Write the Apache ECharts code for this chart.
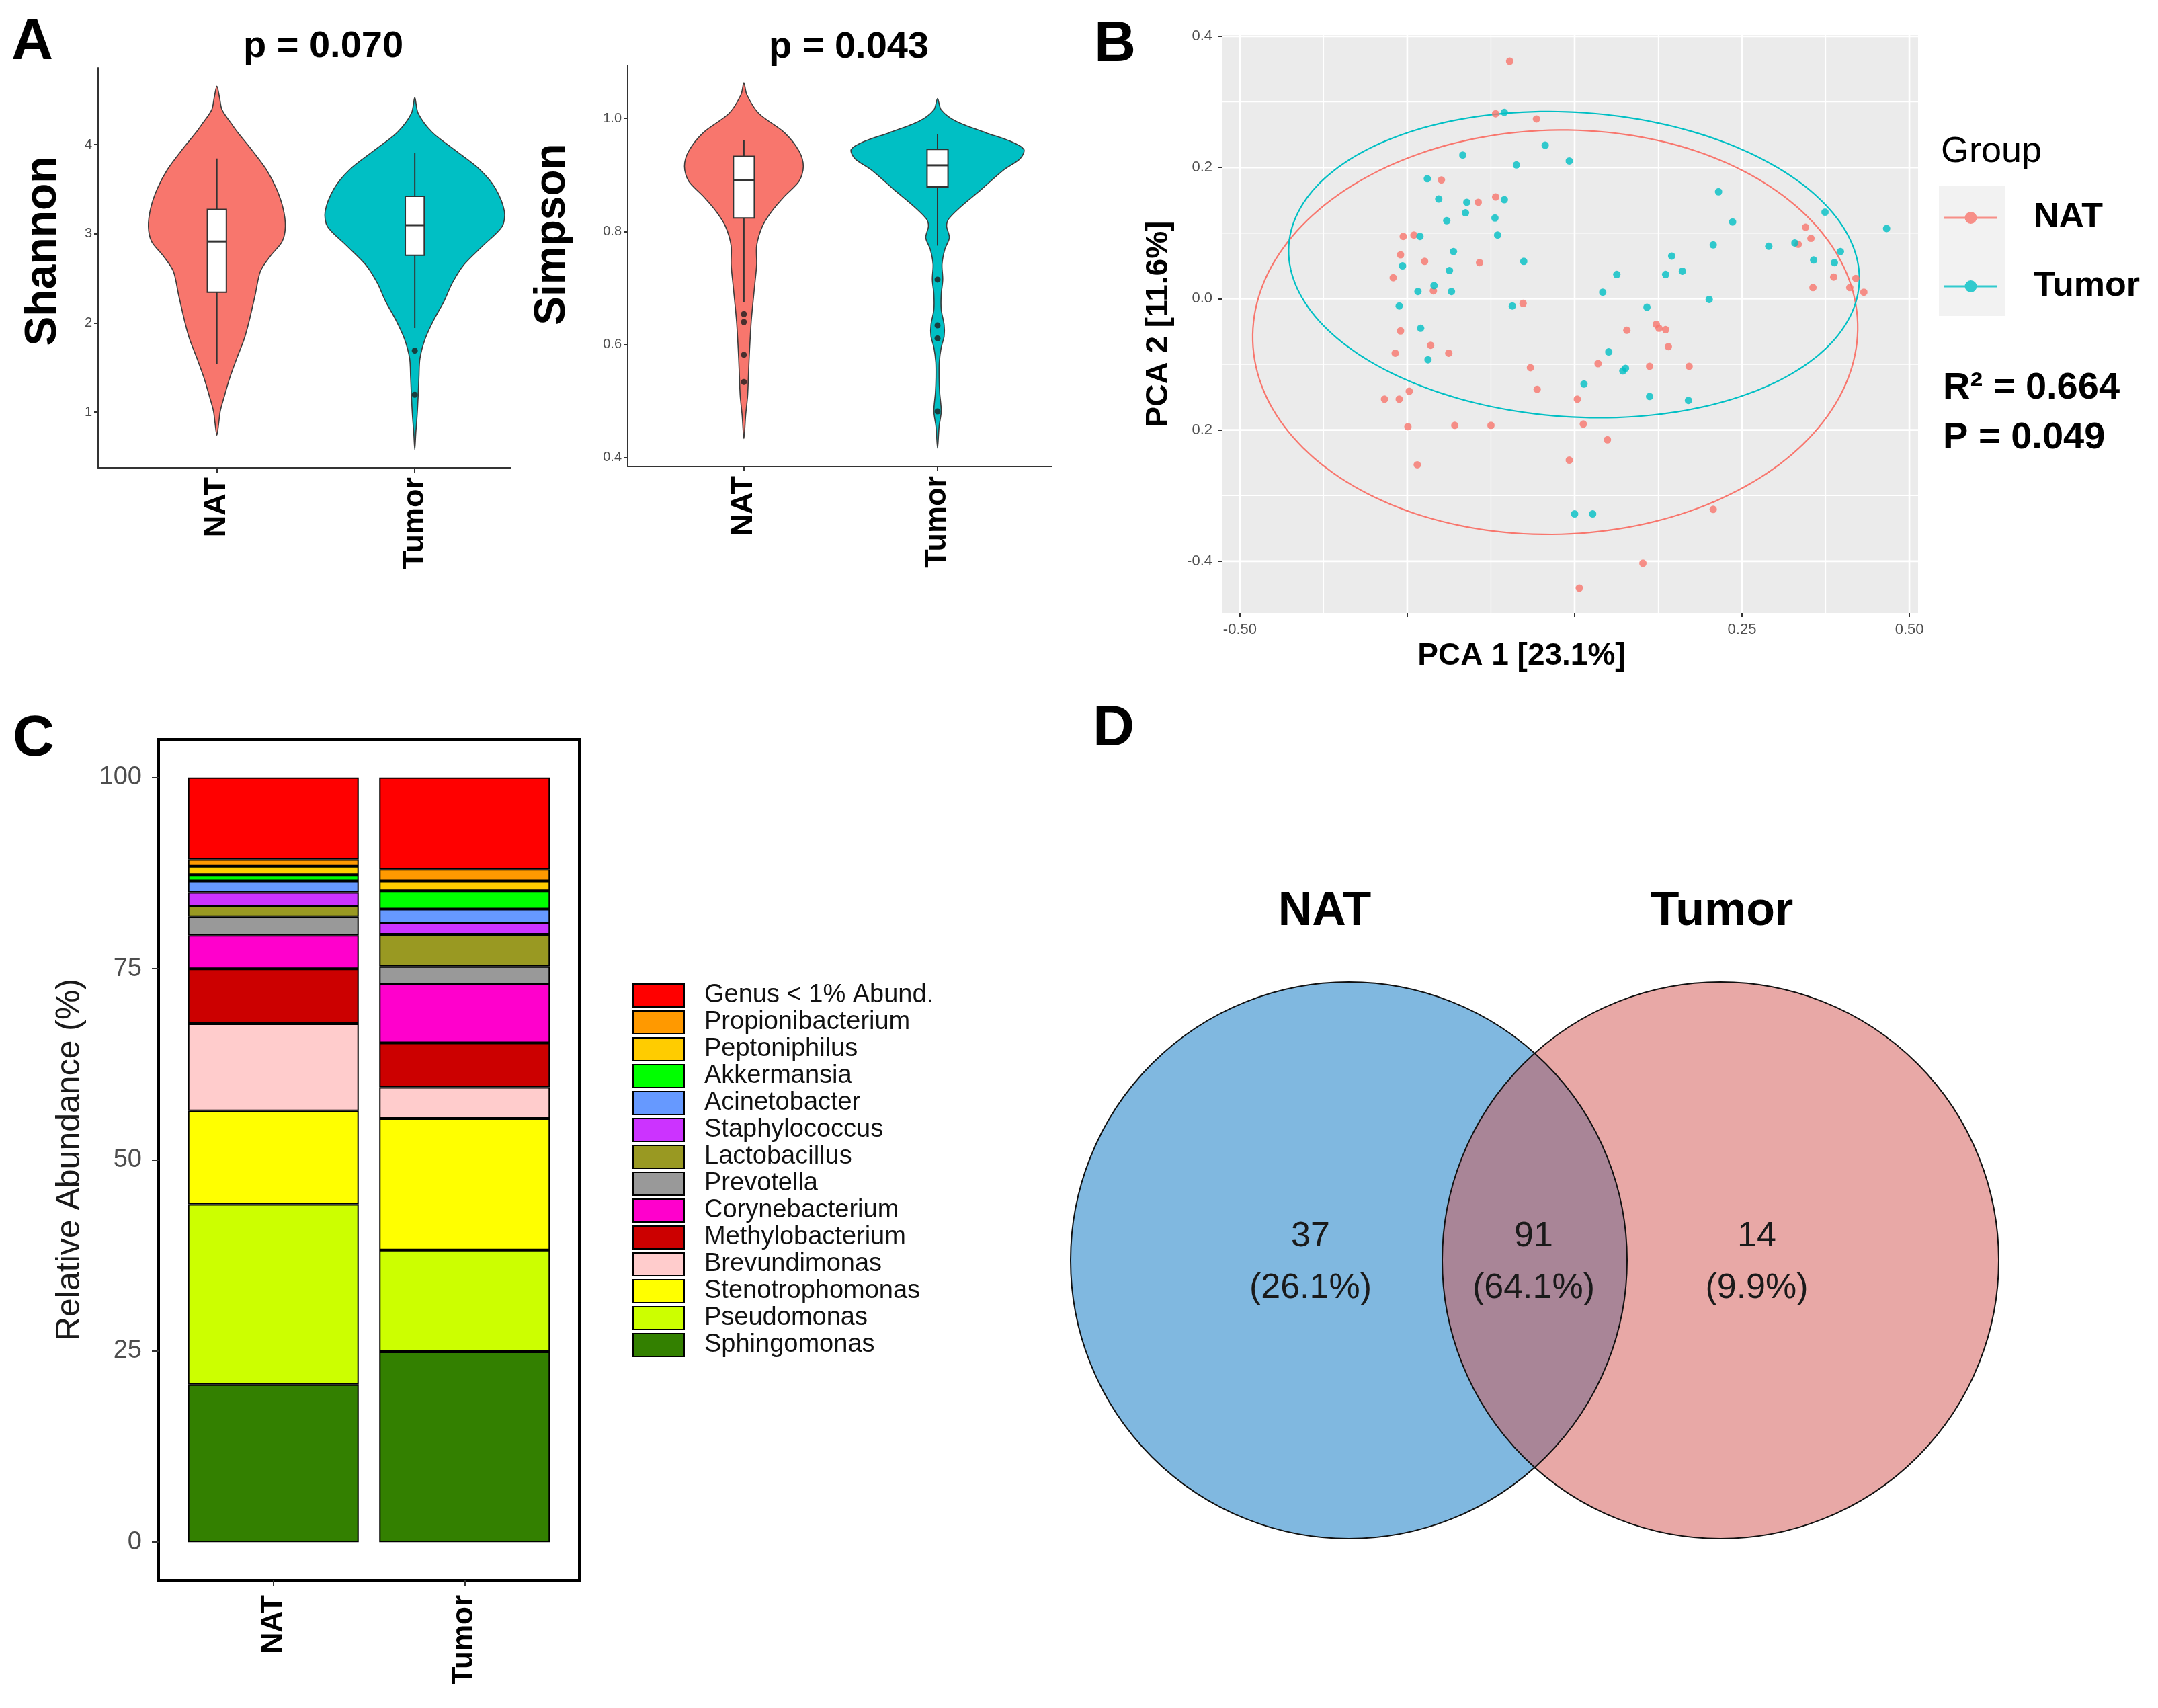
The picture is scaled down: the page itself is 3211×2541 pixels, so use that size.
<!DOCTYPE html>
<html>
<head>
<meta charset="utf-8">
<title>Microbiome NAT vs Tumor</title>
<script src="https://cdn.jsdelivr.net/npm/echarts@6.0.0/dist/echarts.min.js"></script>
<style>
html,body{margin:0;padding:0;background:#ffffff;}
#chart{width:3211px;height:2541px;}
</style>
</head>
<body>
<div id="chart"></div>
<script>
// ================= DATA =================
const groups = ['NAT', 'Tumor'];
const groupPos = [1, 2];
const groupColors = ['#F8766D', '#00BFC4'];

// Panel A — violin outlines: [value, half-width in category units]
const shannonViolinNAT = [[4.655,0],[4.52,0.014],[4.39,0.026],[4.22,0.078],[4.14,0.104],[3.93,0.18],[3.72,0.25],[3.51,0.30],[3.29,0.334],[3.08,0.346],[2.91,0.329],[2.75,0.27],[2.58,0.22],[2.32,0.194],[2.03,0.164],[1.82,0.138],[1.60,0.10],[1.39,0.066],[1.18,0.038],[1.01,0.017],[0.89,0.01],[0.74,0]];
const shannonViolinTumor = [[4.528,0],[4.35,0.017],[4.14,0.087],[3.93,0.208],[3.72,0.329],[3.51,0.407],[3.25,0.453],[3.08,0.441],[2.87,0.346],[2.66,0.251],[2.45,0.19],[2.24,0.147],[2.03,0.095],[1.82,0.052],[1.60,0.026],[1.39,0.021],[1.18,0.017],[0.97,0.012],[0.76,0.005],[0.58,0]];
const simpsonViolinNAT = [[1.063,0],[1.042,0.015],[1.009,0.076],[0.975,0.209],[0.942,0.285],[0.915,0.307],[0.889,0.285],[0.862,0.209],[0.835,0.142],[0.809,0.095],[0.775,0.066],[0.742,0.066],[0.709,0.057],[0.675,0.047],[0.642,0.038],[0.609,0.032],[0.575,0.027],[0.542,0.023],[0.509,0.019],[0.475,0.009],[0.434,0]];
const simpsonViolinTumor = [[1.035,0],[1.015,0.019],[0.995,0.095],[0.975,0.247],[0.959,0.38],[0.945,0.446],[0.929,0.427],[0.909,0.342],[0.875,0.228],[0.842,0.114],[0.822,0.057],[0.809,0.047],[0.789,0.061],[0.769,0.038],[0.742,0.023],[0.715,0.027],[0.689,0.019],[0.662,0.019],[0.635,0.034],[0.615,0.034],[0.595,0.019],[0.569,0.009],[0.542,0.008],[0.515,0.011],[0.482,0.019],[0.455,0.008],[0.417,0]];
// box stats: [lower whisker, Q1, median, Q3, upper whisker]
const shannonBoxStats = [[1.541, 2.344, 2.914, 3.273, 3.844], [1.943, 2.758, 3.096, 3.42, 3.907]];
const simpsonBoxStats = [[0.675, 0.824, 0.891, 0.933, 0.961], [0.775, 0.879, 0.917, 0.945, 0.972]];
const shannonOutliers = [[], [1.689, 1.195]];
const simpsonOutliers = [[0.654, 0.640, 0.582, 0.534], [0.715, 0.634, 0.611, 0.482]];
const shannonTicks = [1, 2, 3, 4];
const simpsonTicks = [0.4, 0.6, 0.8, 1.0];
const pValueShannon = 'p = 0.070';
const pValueSimpson = 'p = 0.043';

// Panel B — PCA scores
const pcaNAT = [[-0.097,0.362],[-0.118,0.282],[-0.057,0.274],[-0.199,0.181],[-0.144,0.147],[-0.118,0.155],[-0.256,0.095],[-0.240,0.097],[-0.260,0.067],[-0.224,0.057],[-0.142,0.055],[-0.271,0.032],[-0.211,0.012],[-0.077,-0.007],[-0.260,-0.049],[-0.215,-0.071],[-0.268,-0.083],[-0.188,-0.083],[-0.066,-0.105],[-0.056,-0.138],[-0.284,-0.153],[-0.262,-0.153],[-0.247,-0.141],[-0.249,-0.195],[-0.179,-0.193],[-0.125,-0.193],[-0.235,-0.253],[-0.008,-0.246],[0.004,-0.153],[0.013,-0.191],[0.035,-0.099],[0.049,-0.215],[0.078,-0.048],[0.007,-0.441],[0.102,-0.403],[0.112,-0.103],[0.122,-0.039],[0.126,-0.045],[0.136,-0.047],[0.140,-0.073],[0.171,-0.103],[0.207,-0.321],[0.345,0.109],[0.353,0.092],[0.334,0.083],[0.387,0.033],[0.356,0.017],[0.411,0.017],[0.420,0.031],[0.432,0.010]];
const pcaTumor = [[-0.105,0.284],[-0.167,0.219],[-0.044,0.234],[-0.087,0.204],[-0.008,0.210],[-0.220,0.183],[-0.203,0.152],[-0.105,0.151],[-0.161,0.147],[-0.163,0.131],[-0.191,0.119],[-0.119,0.123],[-0.115,0.097],[-0.231,0.095],[-0.181,0.072],[-0.257,0.050],[-0.187,0.043],[-0.076,0.057],[-0.210,0.020],[-0.234,0.011],[-0.184,0.011],[-0.262,-0.011],[-0.093,-0.011],[-0.230,-0.045],[-0.219,-0.093],[0.042,0.010],[0.063,0.037],[0.108,-0.013],[0.051,-0.081],[0.072,-0.110],[0.076,-0.106],[0.014,-0.130],[0.112,-0.149],[0.000,-0.328],[0.027,-0.328],[0.136,0.037],[0.145,0.065],[0.161,0.042],[0.170,-0.155],[0.201,-0.001],[0.207,0.082],[0.215,0.163],[0.236,0.117],[0.290,0.080],[0.329,0.085],[0.357,0.059],[0.374,0.132],[0.388,0.055],[0.397,0.072],[0.466,0.107]];
// confidence ellipses: [centerX, centerY, semiAxisX, semiAxisY, tilt(rad)]
const pcaEllipses = [[-0.029, -0.051, 0.452, 0.308, 0.03], [-0.001, 0.052, 0.427, 0.232, -0.07]];
const pcaXMajor = [-0.5, -0.25, 0, 0.25, 0.5];
const pcaXMinor = [-0.375, -0.125, 0.125, 0.375];
const pcaXLabeled = [-0.5, 0.25, 0.5];
const pcaYMajor = [-0.4, -0.2, 0, 0.2, 0.4];
const pcaYMinor = [-0.3, -0.1, 0.1, 0.3];
const pcaYTickLabels = ['-0.4', '0.2', '0.0', '0.2', '0.4'];
const pcaStats = ['R² = 0.664', 'P = 0.049'];

// Panel C — relative abundance (%) stacked bottom → top
const genera = ['Sphingomonas','Pseudomonas','Stenotrophomonas','Brevundimonas','Methylobacterium','Corynebacterium','Prevotella','Lactobacillus','Staphylococcus','Acinetobacter','Akkermansia','Peptoniphilus','Propionibacterium','Genus < 1% Abund.'];
const abundanceNAT   = [20.6, 23.6, 12.2, 11.4, 7.2, 4.4, 2.4, 1.4, 1.8, 1.5, 0.8, 1.1, 0.9, 10.7];
const abundanceTumor = [24.9, 13.3, 17.2, 4.1, 5.8, 7.7, 2.3, 4.2, 1.5, 1.8, 2.4, 1.3, 1.5, 12.0];
const genusColors = ['#338000','#CCFF00','#FFFF00','#FFCCCC','#CC0000','#FF00CC','#999999','#999922','#CC33FF','#6699FF','#00FF00','#FFCC00','#FF9900','#FF0000'];
const abundanceTicks = [0, 25, 50, 75, 100];

// Panel D — Venn counts: NAT only, shared, Tumor only
const vennSets = ['NAT', 'Tumor'];
const vennCounts = [37, 91, 14];

// ================= LAYOUT / STYLE =================
const FONT = '"Liberation Sans", Arial, Helvetica, sans-serif';
const vennLayout = { cx: [2007, 2560], cy: 1875, r: 414, titleX: [1971, 2562], titleY: 1357, labelX: [1950, 2282, 2614], labelY: 1878 };
const vennFill = ['rgba(1,113,193,0.5)', 'rgba(209,81,77,0.5)'];

function makeViolinRender(profiles) {
  return function (params, api) {
    const xc = api.value(0);
    const prof = profiles[params.dataIndex];
    const pts = [];
    for (let k = 0; k < prof.length; k++) pts.push(api.coord([xc + prof[k][1], prof[k][0]]));
    for (let k = prof.length - 1; k >= 0; k--) if (prof[k][1] > 0) pts.push(api.coord([xc - prof[k][1], prof[k][0]]));
    return { type: 'polygon', shape: { points: pts, smooth: 0.3 },
      style: { fill: groupColors[params.dataIndex], stroke: '#3c3c3c', lineWidth: 1.6 } };
  };
}
function makeBoxRender(stats, halfW) {
  return function (params, api) {
    const xc = api.value(0);
    const s = stats[params.dataIndex];
    const top = api.coord([xc, s[4]]), bot = api.coord([xc, s[0]]);
    const tl = api.coord([xc - halfW, s[3]]), br = api.coord([xc + halfW, s[1]]);
    const m1 = api.coord([xc - halfW, s[2]]), m2 = api.coord([xc + halfW, s[2]]);
    return { type: 'group', children: [
      { type: 'line', shape: { x1: top[0], y1: top[1], x2: bot[0], y2: bot[1] }, style: { stroke: '#333', lineWidth: 2 } },
      { type: 'rect', shape: { x: tl[0], y: tl[1], width: br[0] - tl[0], height: br[1] - tl[1] }, style: { fill: '#fff', stroke: '#333', lineWidth: 2 } },
      { type: 'line', shape: { x1: m1[0], y1: m1[1], x2: m2[0], y2: m2[1] }, style: { stroke: '#333', lineWidth: 3 } }
    ] };
  };
}
function outlierData(list) {
  const out = [];
  list.forEach((vals, i) => vals.forEach(v => out.push([groupPos[i], v])));
  return out;
}
function gridLineRender(params, api) {
  const v = api.value(0), dim = api.value(1), major = api.value(2);
  const cs = params.coordSys;
  let shape;
  if (dim === 0) { const x = api.coord([v, 0])[0]; shape = { x1: x, y1: cs.y, x2: x, y2: cs.y + cs.height }; }
  else { const y = api.coord([0, v])[1]; shape = { x1: cs.x, y1: y, x2: cs.x + cs.width, y2: y }; }
  return { type: 'line', shape: shape, style: { stroke: '#ffffff', lineWidth: major ? 2.6 : 1.3 } };
}
function ellipseRender(params, api) {
  const e = pcaEllipses[params.dataIndex];
  const pts = [];
  for (let k = 0; k <= 200; k++) {
    const t = k / 200 * 2 * Math.PI;
    const ex = e[2] * Math.cos(t), ey = e[3] * Math.sin(t);
    pts.push(api.coord([e[0] + ex * Math.cos(e[4]) - ey * Math.sin(e[4]), e[1] + ex * Math.sin(e[4]) + ey * Math.cos(e[4])]));
  }
  return { type: 'polyline', shape: { points: pts }, style: { stroke: groupColors[params.dataIndex], lineWidth: 2.2, fill: null } };
}

const gridLineData = [];
pcaXMinor.forEach(v => gridLineData.push([v, 0, 0]));
pcaYMinor.forEach(v => gridLineData.push([v, 1, 0]));
pcaXMajor.forEach(v => gridLineData.push([v, 0, 1]));
pcaYMajor.forEach(v => gridLineData.push([v, 1, 1]));

const catLabel = v => groups[Math.round(v) - 1];
const axisStroke = { color: '#333', width: 2 };

function violinXAxis(gi, max) {
  return { gridIndex: gi, type: 'value', min: 0.4, max: max,
    axisLine: { show: true, onZero: false, lineStyle: axisStroke },
    axisTick: { show: true, customValues: groupPos, length: 7, lineStyle: axisStroke },
    axisLabel: { customValues: groupPos, formatter: catLabel, rotate: 90, fontSize: 45, fontWeight: 'bold', color: '#000', margin: 14, fontFamily: FONT },
    splitLine: { show: false } };
}
function violinYAxis(gi, min, max, ticks, fmt, name, gap, size, pad) {
  return { gridIndex: gi, type: 'value', min: min, max: max,
    axisLine: { show: true, onZero: false, lineStyle: axisStroke },
    axisTick: { show: true, customValues: ticks, length: 6, lineStyle: axisStroke },
    axisLabel: { customValues: ticks, formatter: fmt, fontSize: 20, color: '#4D4D4D', margin: 9, fontFamily: FONT },
    splitLine: { show: false },
    name: name, nameLocation: 'middle', nameGap: gap, nameRotate: 90, nameMoveOverlap: false,
    nameTextStyle: { fontSize: size, fontWeight: 'bold', color: '#000', fontFamily: FONT, padding: [0, 0, 0, pad] } };
}

const series = [];
// Panel A
series.push({ type: 'custom', name: 'Shannon violin', xAxisIndex: 0, yAxisIndex: 0, z: 2, silent: true,
  renderItem: makeViolinRender([shannonViolinNAT, shannonViolinTumor]), data: groupPos.map((p, i) => [p, shannonBoxStats[i][2]]) });
series.push({ type: 'custom', name: 'Shannon box', xAxisIndex: 0, yAxisIndex: 0, z: 3, silent: true,
  renderItem: makeBoxRender(shannonBoxStats, 0.048), data: groupPos.map((p, i) => [p, shannonBoxStats[i][2]]) });
series.push({ type: 'scatter', name: 'Shannon outliers', xAxisIndex: 0, yAxisIndex: 0, z: 4, silent: true,
  symbolSize: 9, itemStyle: { color: '#1e1e1e' }, data: outlierData(shannonOutliers) });
series.push({ type: 'custom', name: 'Simpson violin', xAxisIndex: 1, yAxisIndex: 1, z: 2, silent: true,
  renderItem: makeViolinRender([simpsonViolinNAT, simpsonViolinTumor]), data: groupPos.map((p, i) => [p, simpsonBoxStats[i][2]]) });
series.push({ type: 'custom', name: 'Simpson box', xAxisIndex: 1, yAxisIndex: 1, z: 3, silent: true,
  renderItem: makeBoxRender(simpsonBoxStats, 0.054), data: groupPos.map((p, i) => [p, simpsonBoxStats[i][2]]) });
series.push({ type: 'scatter', name: 'Simpson outliers', xAxisIndex: 1, yAxisIndex: 1, z: 4, silent: true,
  symbolSize: 9, itemStyle: { color: '#1e1e1e' }, data: outlierData(simpsonOutliers) });
// Panel B
series.push({ type: 'custom', name: 'PCA grid', xAxisIndex: 2, yAxisIndex: 2, z: 1, silent: true, renderItem: gridLineRender, data: gridLineData });
series.push({ type: 'custom', name: 'PCA ellipses', xAxisIndex: 2, yAxisIndex: 2, z: 3, silent: true, renderItem: ellipseRender,
  data: pcaEllipses.map(e => [e[0], e[1]]) });
series.push({ type: 'scatter', name: 'NAT', xAxisIndex: 2, yAxisIndex: 2, z: 4, silent: true, symbolSize: 11,
  itemStyle: { color: groupColors[0] }, data: pcaNAT });
series.push({ type: 'scatter', name: 'Tumor', xAxisIndex: 2, yAxisIndex: 2, z: 4, silent: true, symbolSize: 11,
  itemStyle: { color: groupColors[1] }, data: pcaTumor });
// Panel C
genera.forEach((g, i) => {
  series.push({ type: 'bar', name: g, xAxisIndex: 3, yAxisIndex: 3, stack: 'abundance', barWidth: 254, silent: true,
    encode: { x: 1, y: 0 },
    itemStyle: { color: genusColors[i], borderColor: '#000', borderWidth: 2 },
    data: [[abundanceNAT[i], groupPos[0]], [abundanceTumor[i], groupPos[1]]] });
});
// Panel D
const vennTotal = vennCounts.reduce((a, b) => a + b, 0);
series.push({ type: 'custom', name: 'Venn fill', coordinateSystem: 'none', silent: true, z: 2,
  renderItem: function (params) {
    const i = params.dataIndex;
    return { type: 'circle', shape: { cx: vennLayout.cx[i], cy: vennLayout.cy, r: vennLayout.r }, style: { fill: vennFill[i] } };
  }, data: vennSets.map((s, i) => [i]) });
series.push({ type: 'custom', name: 'Venn outline', coordinateSystem: 'none', silent: true, z: 3,
  renderItem: function (params) {
    const i = params.dataIndex;
    return { type: 'group', children: [
      { type: 'circle', shape: { cx: vennLayout.cx[i], cy: vennLayout.cy, r: vennLayout.r }, style: { fill: null, stroke: '#111', lineWidth: 2 } },
      { type: 'text', x: vennLayout.titleX[i], y: vennLayout.titleY, style: { text: vennSets[i], fontSize: 70, fontWeight: 'bold', fontFamily: FONT, fill: '#000', align: 'center', verticalAlign: 'middle' } }
    ] };
  }, data: vennSets.map((s, i) => [i]) });
series.push({ type: 'custom', name: 'Venn labels', coordinateSystem: 'none', silent: true, z: 4,
  renderItem: function (params) {
    const i = params.dataIndex, c = vennCounts[i];
    return { type: 'text', x: vennLayout.labelX[i], y: vennLayout.labelY,
      style: { text: c + '\n(' + (c / vennTotal * 100).toFixed(1) + '%)', fontSize: 52, lineHeight: 77, fontFamily: FONT, fill: '#1a1a1a', align: 'center', verticalAlign: 'middle' } };
  }, data: vennCounts.map((c, i) => [i]) });

const legendIcon = 'path://M0,7.5L79,7.5L79,10.5L0,10.5Z M30.5,9A9,9,0,1,1,48.5,9A9,9,0,1,1,30.5,9Z';

const option = {
  animation: false,
  backgroundColor: '#ffffff',
  textStyle: { fontFamily: FONT },
  grid: [
    { left: 146, top: 101, width: 614, height: 595, containLabel: false, outerBoundsMode: 'none' },
    { left: 934, top: 97, width: 631, height: 597, containLabel: false, outerBoundsMode: 'none' },
    { left: 1818, top: 52, width: 1036, height: 860, containLabel: false, outerBoundsMode: 'none', show: true, backgroundColor: '#EBEBEB', borderWidth: 0 },
    { left: 236, top: 1100, width: 626, height: 1251, containLabel: false, outerBoundsMode: 'none', show: true, borderColor: '#000', borderWidth: 4 }
  ],
  xAxis: [
    violinXAxis(0, 2.485),
    violinXAxis(1, 2.59),
    { gridIndex: 2, type: 'value', min: -0.527, max: 0.513,
      axisLine: { show: false, onZero: false },
      axisTick: { show: true, customValues: pcaXMajor, length: 6, lineStyle: axisStroke },
      axisLabel: { customValues: pcaXLabeled, formatter: v => v.toFixed(2), fontSize: 22, color: '#4D4D4D', margin: 14, fontFamily: FONT },
      splitLine: { show: false },
      name: 'PCA 1 [23.1%]', nameLocation: 'middle', nameGap: 41, nameMoveOverlap: false,
      nameTextStyle: { fontSize: 46, fontWeight: 'bold', color: '#000', fontFamily: FONT, padding: [0, 144, 0, 0] } },
    { gridIndex: 3, type: 'value', min: 0.4, max: 2.6,
      axisLine: { show: false, onZero: false },
      axisTick: { show: true, customValues: groupPos, length: 9, lineStyle: axisStroke },
      axisLabel: { customValues: groupPos, formatter: catLabel, rotate: 90, fontSize: 44, fontWeight: 'bold', color: '#000', margin: 22, fontFamily: FONT },
      splitLine: { show: false } }
  ],
  yAxis: [
    violinYAxis(0, 0.375, 4.86, shannonTicks, v => String(v), 'Shannon', 48, 66, 50),
    violinYAxis(1, 0.3845, 1.094, simpsonTicks, v => v.toFixed(1), 'Simpson', 80, 64, 94),
    { gridIndex: 2, type: 'value', min: -0.479, max: 0.402,
      axisLine: { show: false, onZero: false },
      axisTick: { show: true, customValues: pcaYMajor, length: 6, lineStyle: axisStroke },
      axisLabel: { customValues: pcaYMajor, formatter: v => pcaYTickLabels[pcaYMajor.findIndex(t => Math.abs(t - v) < 1e-9)], fontSize: 22, color: '#4D4D4D', margin: 14, fontFamily: FONT },
      splitLine: { show: false },
      name: 'PCA 2 [11.6%]', nameLocation: 'middle', nameGap: 71, nameRotate: 90, nameMoveOverlap: false,
      nameTextStyle: { fontSize: 46, fontWeight: 'bold', color: '#000', fontFamily: FONT } },
    { gridIndex: 3, type: 'value', min: -5, max: 105,
      axisLine: { show: false, onZero: false },
      axisTick: { show: true, customValues: abundanceTicks, length: 10, lineStyle: axisStroke },
      axisLabel: { customValues: abundanceTicks, fontSize: 38, color: '#4D4D4D', margin: 25, fontFamily: FONT },
      splitLine: { show: false },
      name: 'Relative Abundance (%)', nameLocation: 'middle', nameGap: 107, nameRotate: 90, nameMoveOverlap: false,
      nameTextStyle: { fontSize: 50, color: '#1a1a1a', fontFamily: FONT } }
  ],
  legend: [
    { data: [{ name: 'NAT', icon: legendIcon }, { name: 'Tumor', icon: legendIcon }],
      orient: 'vertical', left: 2893, top: 294, padding: 0, itemWidth: 79, itemHeight: 18, itemGap: 42, selectedMode: false,
      textStyle: { fontSize: 52, fontWeight: 'bold', color: '#000', lineHeight: 60, fontFamily: FONT, padding: [0, 0, 0, 49] } },
    { data: genera.slice().reverse(), icon: 'rect',
      orient: 'vertical', left: 941, top: 1462, padding: 0, itemWidth: 76, itemHeight: 34, itemGap: 2, selectedMode: false,
      itemStyle: { borderColor: '#000', borderWidth: 2 },
      textStyle: { fontSize: 38, color: '#111', lineHeight: 34, fontFamily: FONT, padding: [0, 0, 0, 25] } }
  ],
  graphic: [
    { type: 'rect', z: 0, shape: { x: 2885, y: 277, width: 98, height: 193 }, style: { fill: '#F2F2F2' } },
    { type: 'text', x: 48, y: 64, style: { text: 'A', fontSize: 86, fontWeight: 'bold', fontFamily: FONT, fill: '#000', align: 'center', verticalAlign: 'middle' } },
    { type: 'text', x: 1659, y: 67, style: { text: 'B', fontSize: 86, fontWeight: 'bold', fontFamily: FONT, fill: '#000', align: 'center', verticalAlign: 'middle' } },
    { type: 'text', x: 50, y: 1100, style: { text: 'C', fontSize: 86, fontWeight: 'bold', fontFamily: FONT, fill: '#000', align: 'center', verticalAlign: 'middle' } },
    { type: 'text', x: 1657, y: 1085, style: { text: 'D', fontSize: 86, fontWeight: 'bold', fontFamily: FONT, fill: '#000', align: 'center', verticalAlign: 'middle' } },
    { type: 'text', x: 481, y: 70, style: { text: pValueShannon, fontSize: 56, fontWeight: 'bold', fontFamily: FONT, fill: '#000', align: 'center', verticalAlign: 'middle' } },
    { type: 'text', x: 1263, y: 71, style: { text: pValueSimpson, fontSize: 56, fontWeight: 'bold', fontFamily: FONT, fill: '#000', align: 'center', verticalAlign: 'middle' } },
    { type: 'text', x: 2888, y: 226, style: { text: 'Group', fontSize: 54, fontFamily: FONT, fill: '#000', align: 'left', verticalAlign: 'middle' } },
    { type: 'text', x: 2891, y: 578, style: { text: pcaStats[0], fontSize: 56, fontWeight: 'bold', fontFamily: FONT, fill: '#000', align: 'left', verticalAlign: 'middle' } },
    { type: 'text', x: 2891, y: 652, style: { text: pcaStats[1], fontSize: 56, fontWeight: 'bold', fontFamily: FONT, fill: '#000', align: 'left', verticalAlign: 'middle' } }
  ],
  series: series
};

const chart = echarts.init(document.getElementById('chart'), null, { renderer: 'canvas', width: 3211, height: 2541 });
chart.setOption(option);
</script>
</body>
</html>
